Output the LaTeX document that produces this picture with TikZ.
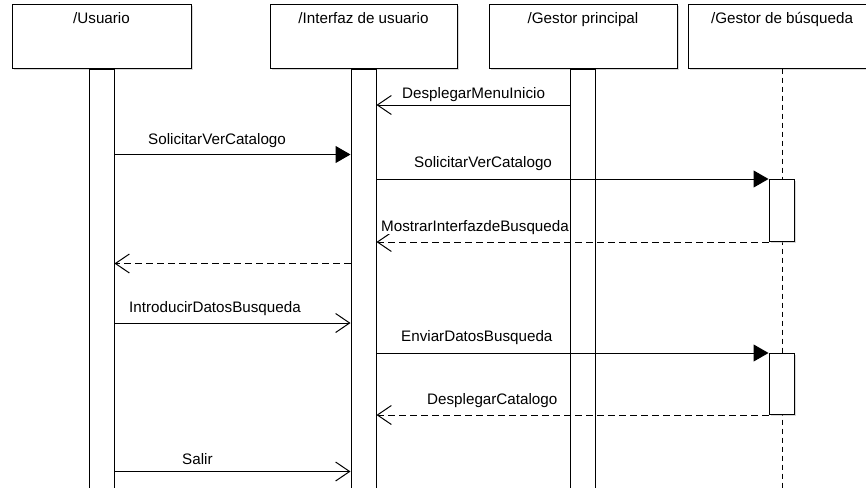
\documentclass[tikz,border=0pt]{standalone}
\usepackage{fontspec}
\setmainfont{Liberation Sans}
\usetikzlibrary{arrows.meta,shadows}
\begin{document}
\begin{tikzpicture}[x=1pt,y=-1pt,
  txt/.style={font=\fontsize{15.2}{18}\selectfont, inner sep=0pt},
  lbl/.style={txt, anchor=base west, fill=white},
  head/.style={draw, line width=1pt, fill=white, minimum height=63pt,
    drop shadow={shadow xshift=1.5pt, shadow yshift=-1.5pt, fill=black!30}},
  bar/.style={draw, line width=1pt, fill=white, minimum width=25pt,
    minimum height=440pt, anchor=north},
  actbox/.style={draw, line width=1pt, fill=white, minimum width=25pt,
    drop shadow={shadow xshift=1.5pt, shadow yshift=-1.5pt, fill=black!30}},
  lifeline/.style={line width=1pt, dash pattern=on 5pt off 4pt},
  msg/.style={line width=1pt},
  reply/.style={line width=1pt, dash pattern=on 7pt off 4pt},
  call/.style={-{Triangle[length=15pt,width=17pt]}},
  open/.style={-{Straight Barb[length=14pt,width=19pt]}}]

\useasboundingbox (0,0) rectangle (866,487);
\clip (0,0) rectangle (866,487);
\fill[white] (0,0) rectangle (866,487);

% participant heads
\node[head, minimum width=179pt] (hu) at (101.5,36.5) {};
\node[head, minimum width=187pt] (hi) at (363.5,36.5) {};
\node[head, minimum width=188pt] (hg) at (583,36.5) {};
\node[head, minimum width=188pt] (hb) at (782,36.5) {};
\node[txt, anchor=base] (hut) at (hu.north |- 0,24) {/Usuario};
\node[txt, anchor=base] (hit) at (hi.north |- 0,24) {/Interfaz de usuario};
\node[txt, anchor=base] (hgt) at (hg.north |- 0,24) {/Gestor principal};
\node[txt, anchor=base] (hbt) at (hb.north |- 0,24) {/Gestor de búsqueda};

% lifelines and activation bars
\coordinate (lbend) at (782,495);
\draw[lifeline] (hb.south) -- (lbend);
\node[bar] (ub) at (hu.south) {};
\node[bar] (ib) at (hi.south) {};
\node[bar, minimum width=24.5pt] (gb) at (hg.south) {};
\node[actbox, minimum height=62pt, anchor=north] (sa1) at (781.5,179) {};
\node[actbox, minimum height=61pt, anchor=north] (sa2) at (781.5,353) {};

% messages
\draw[msg, open] (gb.west |- 0,105) -- (ib.east |- 0,105);
\draw[msg, call] (ub.east |- 0,154.5) -- (ib.west |- 0,154.5);
\draw[msg, call] (ib.east |- sa1.north) -- (sa1.north west);
\draw[reply, open] (sa1.south west) -- (ib.east |- sa1.south);
\draw[reply, open] (ib.west |- 0,263.5) -- (ub.east |- 0,263.5);
\draw[msg, open] (ub.east |- 0,323) -- (ib.west |- 0,323);
\draw[msg, call] (ib.east |- sa2.north) -- (sa2.north west);
\draw[reply, open] (sa2.south west) -- (ib.east |- sa2.south);
\draw[msg, open] (ub.east |- 0,471.5) -- (ib.west |- 0,471.5);

% message labels
\node[lbl] (m1) at (402,98.5) {DesplegarMenuInicio};
\node[lbl] (m2) at (148,144.5) {SolicitarVerCatalogo};
\node[lbl] (m3) at (414,167.5) {SolicitarVerCatalogo};
\node[lbl] (m4) at (381,231) {MostrarInterfazdeBusqueda};
\node[lbl] (m6) at (129,312) {IntroducirDatosBusqueda};
\node[lbl] (m7) at (401,341) {EnviarDatosBusqueda};
\node[lbl] (m8) at (427,404) {DesplegarCatalogo};
\node[lbl] (m9) at (182,464) {Salir};
\end{tikzpicture}
\end{document}
